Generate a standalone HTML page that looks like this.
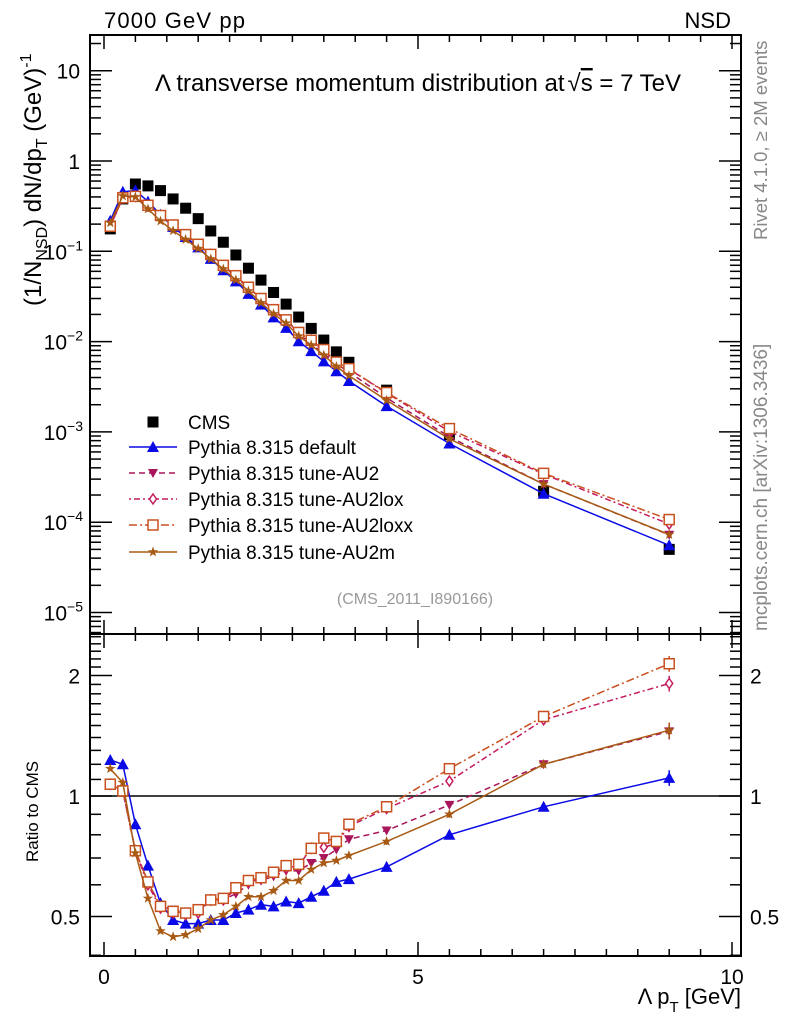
<!DOCTYPE html>
<html><head><meta charset="utf-8"><style>
body{margin:0;background:#fff;}
svg{display:block;font-family:"Liberation Sans",sans-serif;}
</style></head><body>
<svg id="chart" width="786" height="1024" xmlns="http://www.w3.org/2000/svg">
<text x="104" y="28" font-size="22" textLength="141">7000 GeV pp</text>
<text x="731" y="28" font-size="22" text-anchor="end">NSD</text>
<text x="155" y="91" font-size="24">Λ transverse momentum distribution at<tspan dx="3">√</tspan><tspan text-decoration="overline">s</tspan> = 7 TeV</text>
<text transform="translate(41,306) rotate(-90)" font-size="24">(1/N<tspan font-size="16" dy="6">NSD</tspan><tspan dy="-6">) dN/dp</tspan><tspan font-size="16" dy="6">T</tspan><tspan dy="-6"> (GeV)</tspan><tspan font-size="16" dy="-10">-1</tspan></text>
<text transform="translate(38,862) rotate(-90)" font-size="17">Ratio to CMS</text>
<text transform="translate(767,240) rotate(-90)" font-size="18.5" fill="#888">Rivet 4.1.0, ≥ 2M events</text>
<text transform="translate(767,631) rotate(-90)" font-size="19" fill="#888">mcplots.cern.ch [arXiv:1306.3436]</text>
<text x="415" y="604" font-size="16" fill="#999" text-anchor="middle">(CMS_2011_I890166)</text>
<text x="741" y="1004" font-size="22" text-anchor="end">Λ p<tspan font-size="15" dy="8">T</tspan><tspan dy="-8"> [GeV]</tspan></text>
<g id="g"></g>
</svg>
<script>
const xs=[0.1,0.3,0.5,0.7,0.9,1.1,1.3,1.5,1.7,1.9,2.1,2.3,2.5,2.7,2.9,3.1,3.3,3.5,3.7,3.9,4.5,5.5,7.0,9.0];
const cms=[0.177,0.38,0.556,0.53,0.47,0.38,0.30,0.23,0.168,0.126,0.091,0.065,0.048,0.035,0.026,0.0187,0.014,0.0104,0.0077,0.0059,0.0029,0.00093,0.00022,0.00005];
const rDefault=[1.23,1.2,0.85,0.67,0.54,0.49,0.48,0.48,0.49,0.49,0.51,0.52,0.535,0.53,0.545,0.54,0.56,0.58,0.61,0.62,0.665,0.80,0.94,1.11];
const rAU2=[1.07,1.03,0.73,0.61,0.53,0.52,0.51,0.52,0.545,0.55,0.57,0.6,0.615,0.63,0.65,0.65,0.68,0.70,0.735,0.78,0.82,0.95,1.2,1.45];
const rLox=[1.07,1.03,0.73,0.6,0.525,0.51,0.505,0.51,0.55,0.55,0.585,0.61,0.62,0.64,0.66,0.67,0.74,0.745,0.76,0.84,0.93,1.09,1.55,1.91];
const rLoxx=[1.07,1.03,0.73,0.61,0.53,0.515,0.51,0.52,0.55,0.555,0.59,0.615,0.625,0.645,0.67,0.675,0.74,0.785,0.77,0.85,0.94,1.17,1.58,2.14];
const rAU2m=[1.17,1.08,0.72,0.555,0.46,0.445,0.45,0.466,0.49,0.505,0.53,0.56,0.56,0.58,0.615,0.615,0.655,0.68,0.69,0.71,0.77,0.90,1.2,1.46];
const xTicks=[0,5,10];
const NS="http://www.w3.org/2000/svg";
const g=document.getElementById('g');
const L=90,R=741,T1=35,B1=634,B2=956;
const X=v=>104+v*62.8;
const Y1=v=>161-Math.log10(v)*90.3;
const Y2=v=>796-Math.log2(v)*120.5;
function el(t,a,p){const e=document.createElementNS(NS,t);for(const k in a)e.setAttribute(k,a[k]);(p||g).appendChild(e);return e;}
let f1=el('rect',{x:L,y:T1,width:R-L,height:B1-T1,fill:'none',stroke:'#000','stroke-width':2});


let f2=el('rect',{x:L,y:B1,width:R-L,height:B2-B1,fill:'none',stroke:'#000','stroke-width':2});


for(let v=0;v<=10.01;v+=0.5){const x=X(v);const maj=Math.abs(v-Math.round(v/5)*5)<0.01;const len=maj?14:7;
 [[T1,1],[B1,-1],[B1,1],[B2,-1]].forEach(([y,d])=>el('line',{x1:x,x2:x,y1:y,y2:y+d*len,stroke:'#000','stroke-width':1.5}));}
xTicks.forEach(v=>{const t=el('text',{x:X(v),y:984,'font-size':21,'text-anchor':'middle'});t.textContent=v;
 
 });
for(let e=-6;e<=1;e++)for(let m=1;m<=9;m++){const v=m*Math.pow(10,e);const y=Y1(v);if(y<T1||y>B1)continue;const len=m==1?22:11;
 el('line',{x1:L,x2:L+len,y1:y,y2:y,stroke:'#000','stroke-width':1.5});el('line',{x1:R,x2:R-len,y1:y,y2:y,stroke:'#000','stroke-width':1.5});}
[['10',1],['1',0],['10',-1],['10',-2],['10',-3],['10',-4],['10',-5]].forEach(([b,e])=>{const t=el('text',{x:80,y:Y1(Math.pow(10,e))+8,'font-size':21,'text-anchor':'end'});
 if(e==1||e==0)t.textContent=b;else{t.textContent='10';const s=el('tspan',{'font-size':14,dy:-9},t);s.textContent=String(e).replace('-','−');t.setAttribute('x',83);}
 
 });
[0.4,0.5,0.6,0.7,0.8,0.9,1,1.1,1.2,1.3,1.4,1.5,1.6,1.7,1.8,1.9,2,2.1,2.2,2.3,2.4,2.5].forEach(v=>{const y=Y2(v);if(y<B1||y>B2)return;const len=(v==0.5||v==1||v==2)?22:11;
 el('line',{x1:L,x2:L+len,y1:y,y2:y,stroke:'#000','stroke-width':1.5});el('line',{x1:R,x2:R-len,y1:y,y2:y,stroke:'#000','stroke-width':1.5});});
[[2,'2'],[1,'1'],[0.5,'0.5']].forEach(([v,s])=>{const a=el('text',{x:80,y:Y2(v)+8,'font-size':21,'text-anchor':'end'});a.textContent=s;
 
 
 const b=el('text',{x:750,y:Y2(v)+8,'font-size':21});b.textContent=s;
 
 });
let one=el('line',{x1:L,x2:R,y1:Y2(1),y2:Y2(1),stroke:'#000','stroke-width':1.5});


function marker(type,x,y,c,par){const s=5.5;let e;
 if(type=='sq')e=el('rect',{x:x-s,y:y-s,width:2*s,height:2*s,fill:c},par);
 else if(type=='tri')e=el('polygon',{points:`${x},${y-6} ${x-6},${y+5} ${x+6},${y+5}`,fill:c},par);
 else if(type=='tridn')e=el('polygon',{points:`${x},${y+5} ${x-5},${y-4} ${x+5},${y-4}`,fill:c},par);
 else if(type=='dia')e=el('polygon',{points:`${x},${y-5} ${x-3.5},${y} ${x},${y+5} ${x+3.5},${y}`,fill:'#fff',stroke:c,'stroke-width':1.5},par);
 else if(type=='osq')e=el('rect',{x:x-5,y:y-5,width:10,height:10,fill:'#fff',stroke:c,'stroke-width':1.5},par);
 else if(type=='star'){let p=[];for(let i=0;i<10;i++){const r=i%2?2.2:5.5,a=-Math.PI/2+i*Math.PI/5;p.push((x+r*Math.cos(a)).toFixed(1)+','+(y+r*Math.sin(a)).toFixed(1));}e=el('polygon',{points:p.join(' '),fill:c},par);}
 return e;}
const series=[
 {name:'default',r:rDefault,c:'#0a0ae6',m:'tri',d:'',lbl:'Pythia 8.315 default'},
 {name:'au2',r:rAU2,c:'#a8155a',m:'tridn',d:'6,4',lbl:'Pythia 8.315 tune-AU2'},
 {name:'au2lox',r:rLox,c:'#c41a5e',m:'dia',d:'2,3,6,3',lbl:'Pythia 8.315 tune-AU2lox'},
 {name:'au2loxx',r:rLoxx,c:'#c8501e',m:'osq',d:'8,3,2,3',lbl:'Pythia 8.315 tune-AU2loxx'},
 {name:'au2m',r:rAU2m,c:'#a85a14',m:'star',d:'',lbl:'Pythia 8.315 tune-AU2m'}];
const cg=el('g',{});


xs.forEach((x,i)=>{const m=marker('sq',X(x),Y1(cms[i]),'#000',cg);
 
 });
series.forEach(s=>{
 const gm=el('g',{});
 
 
 const pm=xs.map((x,i)=>X(x).toFixed(1)+','+Y1(cms[i]*s.r[i]).toFixed(1)).join(' ');
 el('polyline',{points:pm,fill:'none',stroke:s.c,'stroke-width':1.5,'stroke-dasharray':s.d},gm);
 xs.forEach((x,i)=>{const m=marker(s.m,X(x),Y1(cms[i]*s.r[i]),s.c,gm);
  
  });
 const gr=el('g',{});
 
 
 const pr=xs.map((x,i)=>X(x).toFixed(1)+','+Y2(s.r[i]).toFixed(1)).join(' ');
 el('polyline',{points:pr,fill:'none',stroke:s.c,'stroke-width':1.5,'stroke-dasharray':s.d},gr);
 xs.forEach((x,i)=>{if(i>=20){const e=s.r[i]*(i==23?0.045:0.02);el('line',{x1:X(x),x2:X(x),y1:Y2(s.r[i]+e),y2:Y2(s.r[i]-e),stroke:s.c,'stroke-width':1.5},gr);}
  const m=marker(s.m,X(x),Y2(s.r[i]),s.c,gr);
  
  });
});
const lg=el('g',{});


const ly=[422,447,473,499,525,552];
const le0=el('g',{},lg);


marker('sq',153,ly[0],'#000',le0);
const t0=el('text',{x:188,y:ly[0]+7,'font-size':19},le0);t0.textContent='CMS';
series.forEach((s,k)=>{const y=ly[k+1];const e=el('g',{},lg);
 
 
 el('line',{x1:129,x2:177,y1:y,y2:y,stroke:s.c,'stroke-width':1.5,'stroke-dasharray':s.d},e);
 marker(s.m,153,y,s.c,e);
 const t=el('text',{x:188,y:y+7,'font-size':19},e);t.textContent=s.lbl;});
</script>
</body></html>
